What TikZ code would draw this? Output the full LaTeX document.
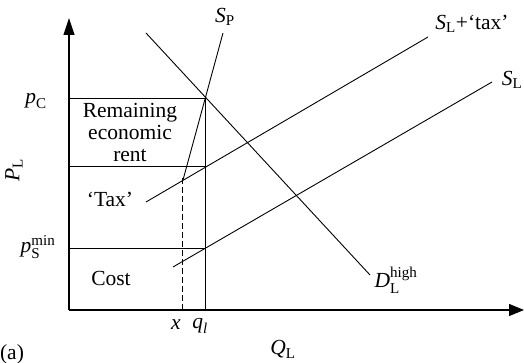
\documentclass[tikz,border=0pt]{standalone}
\usepackage{amsmath}
\usepackage{fontspec}
\setmainfont{Liberation Serif}
\usetikzlibrary{arrows.meta}
\begin{document}
\begin{tikzpicture}[x=1pt,y=-1pt,
  font=\fontsize{21.5}{22}\selectfont,
  axis/.style={line width=1.2pt},
  curve/.style={line width=0.9pt},
  guide/.style={line width=0.9pt},
  dashguide/.style={line width=0.9pt,dash pattern=on 6pt off 3pt},
  lbl/.style={inner sep=0pt}]
\useasboundingbox (0,0) rectangle (524,363);
% axes
\coordinate (O) at (69,310);
\coordinate (Ytop) at (69,18);
\coordinate (Xend) at (524,310);
\draw[axis,-{Triangle[length=17pt,width=11pt]}] (O) -- (Ytop);
\draw[axis,-{Triangle[length=15pt,width=12pt]}] (O) -- (Xend);
% guide coordinates
\coordinate (pc) at (69,98);
\coordinate (E) at (205,98);
\coordinate (r) at (69,166);
\coordinate (T) at (205,166);
\coordinate (ps) at (69,248);
\coordinate (C) at (205,248);
\coordinate (Q) at (205,310);
\coordinate (X) at (182,310);
\coordinate (Xt) at (182,178);
\draw[guide] (pc) -- (E);
\draw[guide] (r) -- (T);
\draw[guide] (ps) -- (C);
\draw[guide] (E) -- (Q);
\draw[dashguide] (Xt) -- (X);
% curves
\coordinate (sp1) at (223,33);
\coordinate (sp2) at (183,180);
\coordinate (d1) at (146,33);
\coordinate (d2) at (370,275);
\coordinate (st1) at (146,202);
\coordinate (st2) at (428,37);
\coordinate (sl1) at (173,267);
\coordinate (sl2) at (492,82);
\draw[curve] (sp1) -- (sp2);
\draw[curve] (d1) -- (d2);
\draw[curve] (st1) -- (st2);
\draw[curve] (sl1) -- (sl2);
% labels
\node[lbl] (lSP) at (225,17) {$\textit{S}_{\text{P}}$};
\node[lbl] (lST) at (472,24) {$\textit{S}_{\text{L}}$+‘tax’};
\node[lbl] (lSL) at (512,80) {$\textit{S}_{\text{L}}$};
\node[lbl] (lD) at (396,280) {$\textit{D}^{\text{high}}_{\text{L}}$};
\node[lbl] (lQ) at (283,349) {$\textit{Q}_{\text{L}}$};
\node[lbl,rotate=90] (lP) at (14,170) {$\textit{P}_{\text{L}}$};
\node[lbl] (lpc) at (36,101) {$\textit{p}_{\text{C}}$};
\node[lbl] (lps) at (38,247) {$\textit{p}^{\text{min}}_{\text{S}}$};
\node[lbl,align=center] (lrent) at (130,132) {Remaining\\economic\\rent};
\node[lbl] (ltax) at (110,199) {‘Tax’};
\node[lbl] (lcost) at (111,278) {Cost};
\node[lbl] (lx) at (176,325) {\textit{x}};
\node[lbl] (lq) at (200,326) {$\textit{q}_{\textit{l}}$};
\node[lbl] (la) at (12,354) {(a)};
\end{tikzpicture}
\end{document}
